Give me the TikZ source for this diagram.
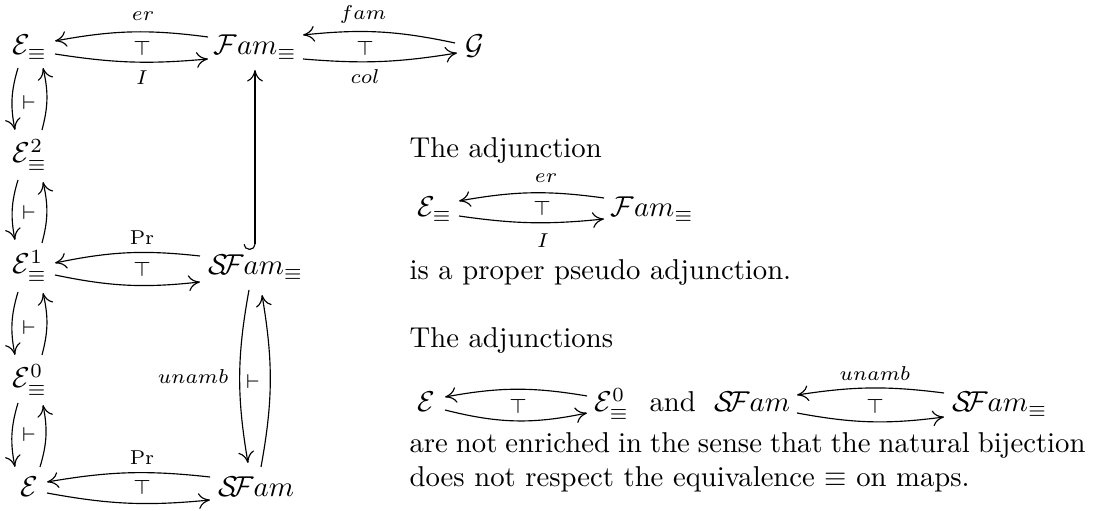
\documentclass[tikz,border=0pt]{standalone}
\usepackage{amsmath,amssymb}
\usetikzlibrary{arrows.meta,calc}
\newcommand{\SFm}{\mathcal{S}\mkern-5mu\mathcal{F}am}
\tikzset{
  obj/.style={inner sep=0pt, anchor=base west},
  txt/.style={inner sep=0pt, anchor=base west},
  lbl/.style={inner sep=0pt, anchor=base, font=\scriptsize},
  adj/.style={inner sep=0pt, anchor=center, font=\scriptsize},
  ar/.style={line width=0.4pt, -{Computer Modern Rightarrow[length=4pt,width=5.5pt]}},
  hk/.style={line width=0.4pt, {Hooks[right,length=2pt,width=8pt]}-{Computer Modern Rightarrow[length=4pt,width=5.5pt]}}
}
\begin{document}
\begin{tikzpicture}[x=0.34843pt,y=-0.34843pt]
\useasboundingbox (0,0) rectangle (1094,511);
% ---------- main diagram ----------
\node[obj] (Eq)  at (12,55)  {$\mathcal{E}_\equiv$};
\node[obj] (Fam) at (213,55) {$\mathcal{F}am_\equiv$};
\node[obj] (G)   at (465,55) {$\mathcal{G}$};
\node[obj] (E2)  at (12,163) {$\mathcal{E}^2_\equiv$};
\node[obj] (E1)  at (12,274) {$\mathcal{E}^1_\equiv$};
\node[obj] (SFq) at (208,275) {$\SFm_\equiv$};
\node[obj] (E0)  at (12,388) {$\mathcal{E}^0_\equiv$};
\node[obj] (E)   at (20,497) {$\mathcal{E}$};
\node[obj] (SF)  at (218,497) {$\SFm$};

% Eq <-> Fam
\draw[ar] ($(Fam.base west)+(-5,-18)$) to[bend right=9] ($(Eq.base west)+(43,-14)$);
\draw[ar] ($(Eq.base west)+(43,-1)$) to[bend right=7] ($(Fam.base west)+(-5,4)$);
\node[adj] (t1) at (142,49) {$\top$};
\node[lbl] (er) at (143,21) {$er$};
\node[lbl] (I)  at (142,85) {$I$};

% Fam <-> G
\draw[ar] ($(G.base west)+(-10,-12)$) to[bend right=9] ($(Fam.base west)+(90,-20)$);
\draw[ar] ($(Fam.base west)+(90,4)$) to[bend right=7] ($(G.base west)+(-8,-2)$);
\node[adj] (t2) at (365,49) {$\top$};
\node[lbl] (fam) at (363,20) {$fam$};
\node[lbl] (col) at (365,84) {$col$};

% left column
\draw[ar] ($(Eq.base west)+(6,13)$) to[bend right=14] ($(E2.base west)+(3,-33)$);
\draw[ar] ($(E2.base west)+(30,-33)$) to[bend right=14] ($(Eq.base west)+(31,13)$);
\node[adj] (v1) at (29,103) {$\vdash$};

\draw[ar] ($(E2.base west)+(6,17)$) to[bend right=14] ($(E1.base west)+(3,-34)$);
\draw[ar] ($(E1.base west)+(30,-31)$) to[bend right=14] ($(E2.base west)+(31,19)$);
\node[adj] (v2) at (29,213) {$\vdash$};

\draw[ar] ($(E1.base west)+(6,18)$) to[bend right=14] ($(E0.base west)+(3,-33)$);
\draw[ar] ($(E0.base west)+(30,-33)$) to[bend right=14] ($(E1.base west)+(31,19)$);
\node[adj] (v3) at (29,328) {$\vdash$};

\draw[ar] ($(E0.base west)+(6,15)$) to[bend right=14] ($(E.base west)+(-5,-30)$);
\draw[ar] ($(E.base west)+(20,-30)$) to[bend right=14] ($(E0.base west)+(31,17)$);
\node[adj] (v4) at (29,435) {$\vdash$};

% E1 <-> SFq
\draw[ar] ($(SFq.base west)+(-8,-19)$) to[bend right=9] ($(E1.base west)+(43,-11)$);
\draw[ar] ($(E1.base west)+(43,1)$) to[bend right=9] ($(SFq.base west)+(-8,7)$);
\node[adj] (t3) at (142,270) {$\top$};
\node[lbl] (pr1) at (142,245) {$\mathrm{Pr}$};

% E <-> SF
\draw[ar] ($(SF.base west)+(-8,-20)$) to[bend right=8] ($(E.base west)+(27,-15)$);
\draw[ar] ($(E.base west)+(27,-4)$) to[bend right=8] ($(SF.base west)+(-8,3)$);
\node[adj] (t4) at (142,488) {$\top$};
\node[lbl] (pr2) at (142,465) {$\mathrm{Pr}$};

% SFq <-> SF
\draw[ar] ($(SFq.base west)+(41,15)$) to[bend right=10] ($(SF.base west)+(30,-34)$);
\draw[ar] ($(SF.base west)+(43,-30)$) to[bend right=10] ($(SFq.base west)+(54,20)$);
\node[adj] (v5) at (253,382) {$\vdash$};
\node[inner sep=0pt, anchor=base east, font=\scriptsize] (un) at (229,384) {$unamb$};

% hook SFq -> Fam
\draw[hk] ($(SFq.base west)+(47,-25)$) -- ($(Fam.base west)+(42,15)$);

% ---------- right text ----------
\node[txt] (l1) at (409,158) {The adjunction};
\node[obj] (DE) at (417,217) {$\mathcal{E}_\equiv$};
\node[obj] (DF) at (610,217) {$\mathcal{F}am_\equiv$};
\draw[ar] ($(DF.base west)+(-6,-19)$) to[bend right=9] ($(DE.base west)+(42,-16)$);
\draw[ar] ($(DE.base west)+(42,-1)$) to[bend right=7] ($(DF.base west)+(-6,2)$);
\node[adj] (t5) at (542,209) {$\top$};
\node[lbl] (er2) at (546,183) {$er$};
\node[lbl] (I2) at (543,248) {$I$};
\node[txt] (l2) at (409,280) {is a proper pseudo adjunction.};

\node[txt] (l3) at (409,348) {The adjunctions};
\node[obj] (D2E)  at (417,412) {$\mathcal{E}$};
\node[obj] (D2E0) at (594,412) {$\mathcal{E}^0_\equiv$};
\node[txt] (and)  at (649,412) {and};
\node[obj] (D2S)  at (714,412) {$\SFm$};
\node[obj] (D2Sq) at (952,412) {$\SFm_\equiv$};
\draw[ar] ($(D2E0.base west)+(-7,-16)$) to[bend right=10] ($(D2E.base west)+(28,-15)$);
\draw[ar] ($(D2E.base west)+(28,-2)$) to[bend right=13] ($(D2E0.base west)+(-7,1)$);
\node[adj] (t6) at (518,407) {$\top$};
\draw[ar] ($(D2Sq.base west)+(-8,-19)$) to[bend right=8] ($(D2S.base west)+(83,-17)$);
\draw[ar] ($(D2S.base west)+(83,1)$) to[bend right=9] ($(D2Sq.base west)+(-8,5)$);
\node[adj] (t7) at (875,407) {$\top$};
\node[lbl] (un2) at (875,381) {$unamb$};

\node[txt] (l4) at (409,453) {\hbox to 235.5pt{are not enriched in the sense that the natural bijection}};
\node[txt] (l5) at (409,487) {does not respect the equivalence $\equiv$ on maps.};
\end{tikzpicture}
\end{document}
